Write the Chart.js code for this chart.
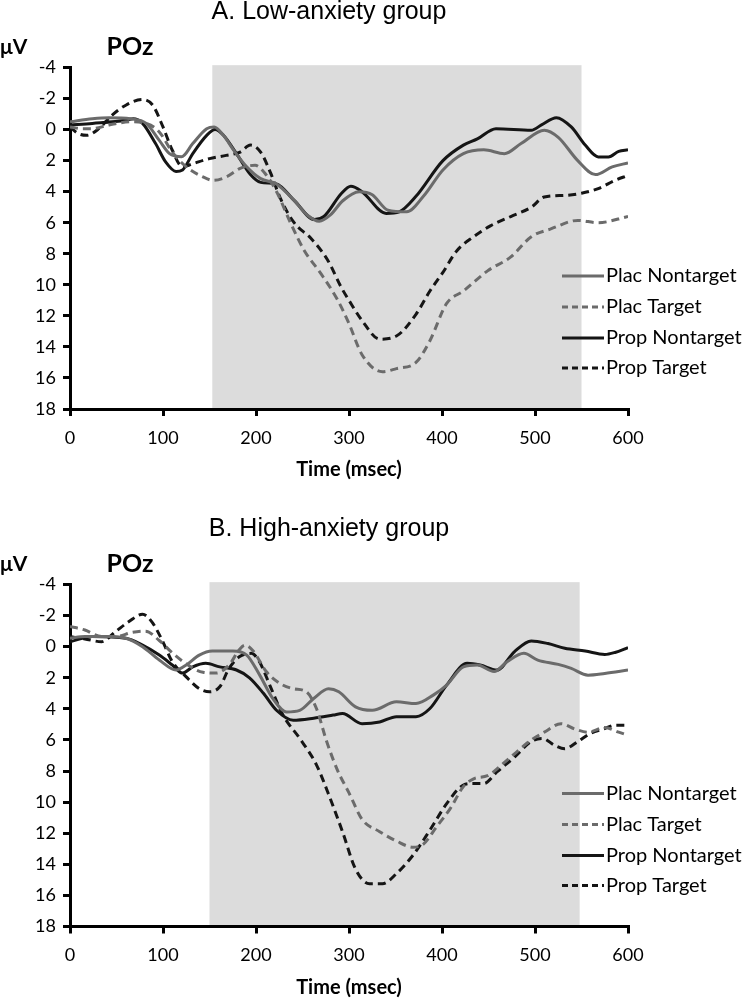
<!DOCTYPE html>
<html>
<head>
<meta charset="utf-8">
<script src="https://cdn.jsdelivr.net/npm/chart.js@4.4.1/dist/chart.umd.min.js"></script>
<style>
  html, body { margin: 0; padding: 0; background: #fff; }
  #wrap { position: relative; width: 742px; height: 1000px; }
  .box { position: absolute; left: 0; width: 742px; }
</style>
</head>
<body>
<div id="wrap">
  <div class="box" style="top:0;height:490px"><canvas id="cA" width="742" height="490"></canvas></div>
  <div class="box" style="top:490px;height:510px"><canvas id="cB" width="742" height="510"></canvas></div>
</div>
<script>
// ---------- DATA ----------
const seriesLabels = ["Plac Nontarget", "Plac Target", "Prop Nontarget", "Prop Target"];
const xTicks = [0, 100, 200, 300, 400, 500, 600];
const yTicks = [-4, -2, 0, 2, 4, 6, 8, 10, 12, 14, 16, 18];
const shadeA = [153, 550];
const shadeB = [150, 548];

// A. Low-anxiety group
const aPlacNonT = [0,24,42,65,82,96,107,120,132,147,155,165,176,190,205,222,241,255,268,280,293,311,325,342,362,380,401,423,445,467,485,510,525,546,565,583,600];
const aPlacNonV = [-0.5,-0.7,-0.77,-0.7,-0.4,0.7,1.55,1.75,0.9,-0.06,-0.17,0.37,1.33,2.4,3.16,3.5,4.56,5.5,5.9,5.5,4.6,4.0,4.2,5.2,5.3,4.3,2.6,1.55,1.3,1.55,0.9,0.04,0.5,2.0,2.9,2.4,2.15];

const aPlacTgtT = [0,13,24,42,65,82,96,110,125,143,154,168,183,199,210,223,237,252,270,288,300,314,336,351,372,387,405,423,449,474,496,517,546,568,600];
const aPlacTgtV = [-0.17,-0.06,-0.06,-0.3,-0.5,-0.4,0.15,1.45,2.4,3.05,3.27,3.05,2.5,2.3,2.84,4.1,6.0,7.8,9.3,11.0,12.5,14.5,15.6,15.4,15.0,13.6,11.2,10.4,9.1,8.2,6.9,6.4,5.85,6.0,5.6];

const aPropNonT = [0,24,60,68,78,92,103,114,121,132,147,156,165,179,194,205,222,241,263,273,292,302,314,340,354,372,401,423,438,458,496,507,523,539,554,568,579,590,600];
const aPropNonV = [-0.3,-0.4,-0.6,-0.7,-0.4,0.9,2.1,2.7,2.6,1.55,0.37,0,0.37,1.55,2.9,3.4,3.5,4.56,5.8,5.6,4.1,3.65,4.0,5.4,5.3,4.3,2.0,1.0,0.6,-0.06,0.04,-0.3,-0.77,-0.17,1.0,1.76,1.76,1.4,1.3];

const aPropTgtT = [0,9,18,31,45,60,78,89,100,110,121,132,150,168,183,194,205,216,226,241,259,277,292,300,314,333,351,372,387,401,416,434,452,474,496,510,532,550,568,586,600];
const aPropTgtV = [-0.17,0.26,0.37,-0.06,-0.92,-1.57,-1.94,-1.57,-0.17,1.33,2.4,2.2,1.87,1.66,1.45,1.0,1.45,2.84,4.4,6.0,7.0,8.4,10.2,11.0,12.3,13.5,13.3,11.9,10.4,9.2,7.8,6.9,6.2,5.6,5.0,4.34,4.24,4.1,3.8,3.27,2.95];

// B. High-anxiety group
const bPlacNonT = [0,16,42,60,78,96,114,125,139,153,175,190,204,218,233,247,262,278,289,307,325,351,372,391,405,423,438,456,470,488,503,525,539,557,575,600];
const bPlacNonV = [-0.54,-0.65,-0.65,-0.54,0,0.86,1.5,1.18,0.54,0.28,0.28,0.54,1.83,3.33,4.2,4.1,3.33,2.7,2.9,3.87,4.09,3.55,3.66,3.1,2.47,1.3,1.18,1.6,0.97,0.43,0.86,1.14,1.4,1.83,1.72,1.5];

const bPlacTgtT = [0,16,34,49,67,81,96,110,125,143,157,171,182,188,197,211,226,240,254,265,276,288,300,314,333,351,369,380,394,409,423,434,449,470,496,510,528,543,557,575,590,600];
const bPlacTgtV = [-1.3,-1.07,-0.65,-0.65,-0.92,-1.0,-0.4,0.4,1.1,1.65,1.7,1.18,0.2,-0.1,0.28,1.6,2.37,2.7,2.9,3.98,6.1,8.0,9.4,11.1,11.9,12.5,12.9,12.7,11.6,10.4,9.0,8.5,8.3,7.3,6.0,5.5,4.95,5.3,5.5,5.2,5.5,5.7];

const bPropNonT = [0,24,60,78,96,110,121,132,146,161,179,193,208,222,240,262,283,293,314,333,351,372,387,405,427,441,459,478,496,514,532,554,575,586,600];
const bPropNonV = [-0.32,-0.65,-0.54,-0.1,0.54,1.18,1.7,1.3,1.07,1.3,1.5,2.0,3.0,4.09,4.73,4.6,4.4,4.3,4.95,4.84,4.5,4.5,3.98,2.47,1.07,1.18,1.5,0.32,-0.37,-0.2,0.1,0.28,0.5,0.37,0.06];

const bPropTgtT = [0,16,34,49,63,78,88,99,110,125,139,150,161,171,182,195,204,215,229,247,265,280,293,307,322,336,351,369,387,405,423,434,445,459,478,496,508,521,532,546,559,575,586,600];
const bPropTgtV = [-0.65,-0.5,-0.32,-0.97,-1.6,-2.09,-1.6,-0.43,0.97,1.94,2.7,2.9,2.58,1.4,0.65,0.43,1.0,2.5,4.4,5.9,7.6,9.8,11.9,14.3,15.25,15.25,14.6,13.4,11.8,10.1,8.9,8.8,8.8,8.06,7.1,6.1,5.9,6.34,6.56,6.1,5.6,5.27,5.05,5.05];

// ---------- STYLE ----------
const GREY = '#6b6b6b', BLACK = '#151515';
const styles = [
  { color: GREY, dash: [] },
  { color: GREY, dash: [8, 5] },
  { color: BLACK, dash: [] },
  { color: BLACK, dash: [8, 5] }
];
const TICK_FONT = { family: 'Lato', size: 18 };

function pts(t, v) { return t.map((x, i) => ({ x: x, y: v[i] })); }

function makeDatasets(sets) {
  return sets.map((s, i) => ({
    label: seriesLabels[i],
    data: pts(s[0], s[1]),
    borderColor: styles[i].color,
    borderDash: styles[i].dash,
    borderWidth: 3,
    pointRadius: 0,
    fill: false,
    cubicInterpolationMode: 'monotone'
  }));
}

function decorPlugin(cfg) {
  return {
    id: 'decor',
    beforeDraw(chart) {
      const { ctx, scales: { x, y } } = chart;
      ctx.save();
      ctx.fillStyle = '#dcdcdc';
      const x0 = x.getPixelForValue(cfg.shade[0]);
      const x1 = x.getPixelForValue(cfg.shade[1]);
      const y0 = y.getPixelForValue(-4.15);
      const y1 = y.getPixelForValue(18);
      ctx.fillRect(x0, y0, x1 - x0, y1 - y0);
      ctx.restore();
    },
    afterDraw(chart) {
      const { ctx, chartArea } = chart;
      ctx.save();
      ctx.fillStyle = '#000';
      // Title
      ctx.font = '25px "Liberation Sans", Arial, sans-serif';
      ctx.textAlign = 'center';
      ctx.textBaseline = 'middle';
      ctx.fillText(cfg.title, 329, chartArea.top - 55);
      // unit & electrode
      ctx.font = 'bold 21px Lato';
      ctx.textAlign = 'left';
      ctx.fillText('\u03BCV', 0, chartArea.top - 20);
      ctx.font = 'bold 25px Lato';
      ctx.textAlign = 'center';
      ctx.fillText('POz', 130, chartArea.top - 21);
      // axis title
      ctx.font = 'bold 20px Lato';
      ctx.fillText('Time (msec)', (chartArea.left + chartArea.right) / 2, chartArea.bottom + 61);
      // legend
      const offs = [-133, -102, -71, -41];
      chart.data.datasets.forEach((ds, i) => {
        const yy = chartArea.bottom + offs[i];
        ctx.strokeStyle = ds.borderColor;
        ctx.lineWidth = 3;
        ctx.setLineDash([6, 4]);
        if (!ds.borderDash.length) ctx.setLineDash([]);
        ctx.beginPath();
        ctx.moveTo(562, yy);
        ctx.lineTo(604, yy);
        ctx.stroke();
        ctx.setLineDash([]);
        ctx.fillStyle = '#000';
        ctx.font = '20px Lato';
        ctx.textAlign = 'left';
        ctx.fillText(ds.label, 606, yy);
      });
      ctx.restore();
    }
  };
}

function makeChart(id, sets, cfg) {
  const axisCommon = {
    grid: { display: true, drawOnChartArea: false, drawTicks: true, tickLength: 7, lineWidth: 3, color: '#000' },
    border: { display: true, width: 3, color: '#000' }
  };
  return new Chart(document.getElementById(id), {
    type: 'line',
    data: { datasets: makeDatasets(sets) },
    options: {
      responsive: false,
      animation: false,
      events: [],
      layout: { padding: { top: cfg.top, right: 114, left: 0, bottom: 0 } },
      plugins: { legend: { display: false }, tooltip: { enabled: false }, title: { display: false } },
      scales: {
        x: Object.assign({
          type: 'linear', min: xTicks[0], max: xTicks[xTicks.length - 1],
          afterBuildTicks(s) { s.ticks = xTicks.map(v => ({ value: v })); },
          ticks: { font: TICK_FONT, color: '#000', padding: 11, maxRotation: 0, autoSkip: false },
          afterFit(s) { s.height = cfg.xh; }
        }, axisCommon),
        y: Object.assign({
          type: 'linear', min: yTicks[0], max: yTicks[yTicks.length - 1], reverse: true,
          afterBuildTicks(s) { s.ticks = yTicks.map(v => ({ value: v })); },
          ticks: { font: TICK_FONT, color: '#000', padding: 7, autoSkip: false },
          afterFit(s) { s.width = 70; }
        }, axisCommon)
      }
    },
    plugins: [decorPlugin(cfg)]
  });
}

Chart.defaults.font.family = 'Lato';

makeChart('cA', [[aPlacNonT, aPlacNonV], [aPlacTgtT, aPlacTgtV], [aPropNonT, aPropNonV], [aPropTgtT, aPropTgtV]],
  { title: 'A. Low-anxiety group', shade: shadeA, top: 67.5, xh: 490 - 409 });
makeChart('cB', [[bPlacNonT, bPlacNonV], [bPlacTgtT, bPlacTgtV], [bPropNonT, bPropNonV], [bPropTgtT, bPropTgtV]],
  { title: 'B. High-anxiety group', shade: shadeB, top: 94.5, xh: 510 - 436.5 });
</script>
</body>
</html>
